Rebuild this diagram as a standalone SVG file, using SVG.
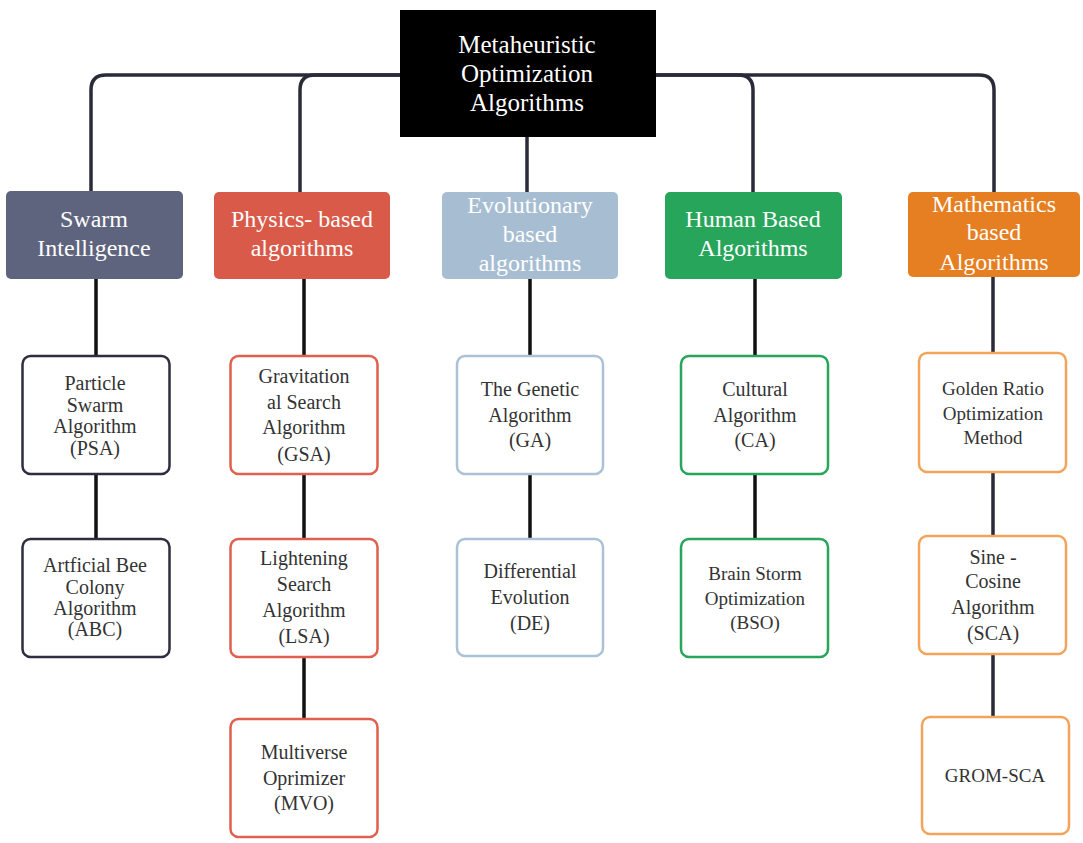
<svg xmlns="http://www.w3.org/2000/svg" width="1083" height="843" viewBox="0 0 1083 843" font-family="'Liberation Serif', 'DejaVu Serif', 'Times New Roman', serif">
<style>
text{text-anchor:middle;dominant-baseline:central}
.root{fill:#ffffff;font-size:25px}
.cat{fill:#ffffff;font-size:24px}
.leaf{fill:#333333;font-size:20px}
.lf{fill:#ffffff;stroke-width:2.5}
.conn{fill:none;stroke:#2a2a38;stroke-width:3.5;stroke-linecap:round}
.conn2{fill:none;stroke:#111111;stroke-width:3.5}
</style>
<rect width="1083" height="843" fill="#ffffff"/>
<g id="connectors">
<path class="conn" d="M400,75 H106 Q91,75 91,90 V191"/>
<path class="conn" d="M400,75 H315 Q300,75 300,90 V192"/>
<path class="conn" d="M527,137 V192"/>
<path class="conn" d="M656,75 H738 Q753,75 753,90 V192"/>
<path class="conn" d="M656,75 H979 Q994,75 994,90 V192"/>
<path class="conn2" d="M96,279 V356 M96,474 V539"/>
<path class="conn2" d="M304,279 V356 M304,474 V538 M304,657 V719"/>
<path class="conn2" d="M530,279 V356 M530,475 V539"/>
<path class="conn2" d="M755,279 V356 M755,474 V539"/>
<path class="conn" d="M993,277 V353 M993,472 V536 M993,654 V717"/>
</g>
<g id="root">
<rect x="400" y="10" width="256" height="127" fill="#000000"/>
<text class="root" x="527" y="44">Metaheuristic</text>
<text class="root" x="527" y="73">Optimization</text>
<text class="root" x="527" y="102">Algorithms</text>
</g>
<g id="swarm">
<rect x="6" y="191" width="177" height="88" rx="5" fill="#5e647e"/>
<text class="cat" x="94" y="219">Swarm</text>
<text class="cat" x="94" y="248">Intelligence</text>
</g>
<g id="physics">
<rect x="214" y="192" width="176" height="87" rx="5" fill="#d95a48"/>
<text class="cat" x="302" y="219">Physics- based</text>
<text class="cat" x="302" y="248">algorithms</text>
</g>
<g id="evolutionary">
<rect x="442" y="192" width="176" height="87" rx="5" fill="#a7bed2"/>
<text class="cat" x="530" y="205" fill="#f4f7fa">Evolutionary</text>
<text class="cat" x="530" y="234" fill="#f4f7fa">based</text>
<text class="cat" x="530" y="263" fill="#f4f7fa">algorithms</text>
</g>
<g id="human">
<rect x="665" y="192" width="177" height="87" rx="5" fill="#27a55a"/>
<text class="cat" x="753" y="219">Human Based</text>
<text class="cat" x="753" y="248">Algorithms</text>
</g>
<g id="mathematics">
<rect x="908" y="192" width="172" height="85" rx="5" fill="#e67e22"/>
<text class="cat" x="994" y="204">Mathematics</text>
<text class="cat" x="994" y="232">based</text>
<text class="cat" x="994" y="262">Algorithms</text>
</g>
<g id="psa">
<rect class="lf" x="22.5" y="356" width="147" height="118" rx="8" stroke="#2e2e3e"/>
<text class="leaf" x="95" y="383">Particle</text>
<text class="leaf" x="95" y="405">Swarm</text>
<text class="leaf" x="95" y="426">Algorithm</text>
<text class="leaf" x="95" y="448">(PSA)</text>
</g>
<g id="abc">
<rect class="lf" x="22.5" y="539" width="147" height="118" rx="8" stroke="#2e2e3e"/>
<text class="leaf" x="95" y="565">Artficial Bee</text>
<text class="leaf" x="95" y="587">Colony</text>
<text class="leaf" x="95" y="608">Algorithm</text>
<text class="leaf" x="95" y="629">(ABC)</text>
</g>
<g id="gsa">
<rect class="lf" x="230.5" y="356" width="147" height="118" rx="8" stroke="#e0604f"/>
<text class="leaf" x="304" y="376">Gravitation</text>
<text class="leaf" x="304" y="402">al Search</text>
<text class="leaf" x="304" y="427">Algorithm</text>
<text class="leaf" x="304" y="454">(GSA)</text>
</g>
<g id="lsa">
<rect class="lf" x="230.5" y="539" width="147" height="118" rx="8" stroke="#e0604f"/>
<text class="leaf" x="304" y="558">Lightening</text>
<text class="leaf" x="304" y="584">Search</text>
<text class="leaf" x="304" y="610">Algorithm</text>
<text class="leaf" x="304" y="636">(LSA)</text>
</g>
<g id="mvo">
<rect class="lf" x="230.5" y="719" width="147" height="118" rx="8" stroke="#e0604f"/>
<text class="leaf" x="304" y="752">Multiverse</text>
<text class="leaf" x="304" y="778">Oprimizer</text>
<text class="leaf" x="304" y="803">(MVO)</text>
</g>
<g id="ga">
<rect class="lf" x="457" y="356" width="146" height="118" rx="8" stroke="#aac1d6"/>
<text class="leaf" x="530" y="389">The Genetic</text>
<text class="leaf" x="530" y="415">Algorithm</text>
<text class="leaf" x="530" y="440">(GA)</text>
</g>
<g id="de">
<rect class="lf" x="457" y="539" width="146" height="117" rx="8" stroke="#aac1d6"/>
<text class="leaf" x="530" y="571">Differential</text>
<text class="leaf" x="530" y="597">Evolution</text>
<text class="leaf" x="530" y="623">(DE)</text>
</g>
<g id="ca">
<rect class="lf" x="681" y="356" width="147" height="118" rx="8" stroke="#27a55a"/>
<text class="leaf" x="755" y="389">Cultural</text>
<text class="leaf" x="755" y="415">Algorithm</text>
<text class="leaf" x="755" y="440">(CA)</text>
</g>
<g id="bso">
<rect class="lf" x="681" y="539" width="147" height="118" rx="8" stroke="#27a55a"/>
<text class="leaf" x="755" y="573" style="font-size:19px">Brain Storm</text>
<text class="leaf" x="755" y="598" style="font-size:19px">Optimization</text>
<text class="leaf" x="755" y="622" style="font-size:19px">(BSO)</text>
</g>
<g id="grom">
<rect class="lf" x="919" y="353" width="147" height="119" rx="8" stroke="#f2a55a"/>
<text class="leaf" x="993" y="388" style="font-size:19px">Golden Ratio</text>
<text class="leaf" x="993" y="413" style="font-size:19px">Optimization</text>
<text class="leaf" x="993" y="437" style="font-size:19px">Method</text>
</g>
<g id="sca">
<rect class="lf" x="919" y="536" width="147" height="118" rx="8" stroke="#f2a55a"/>
<text class="leaf" x="993" y="557">Sine -</text>
<text class="leaf" x="993" y="581">Cosine</text>
<text class="leaf" x="993" y="607">Algorithm</text>
<text class="leaf" x="993" y="633">(SCA)</text>
</g>
<g id="gromsca">
<rect class="lf" x="922" y="717" width="147" height="117" rx="8" stroke="#f2a55a"/>
<text class="leaf" x="995" y="775" style="font-size:19px">GROM-SCA</text>
</g>
</svg>
